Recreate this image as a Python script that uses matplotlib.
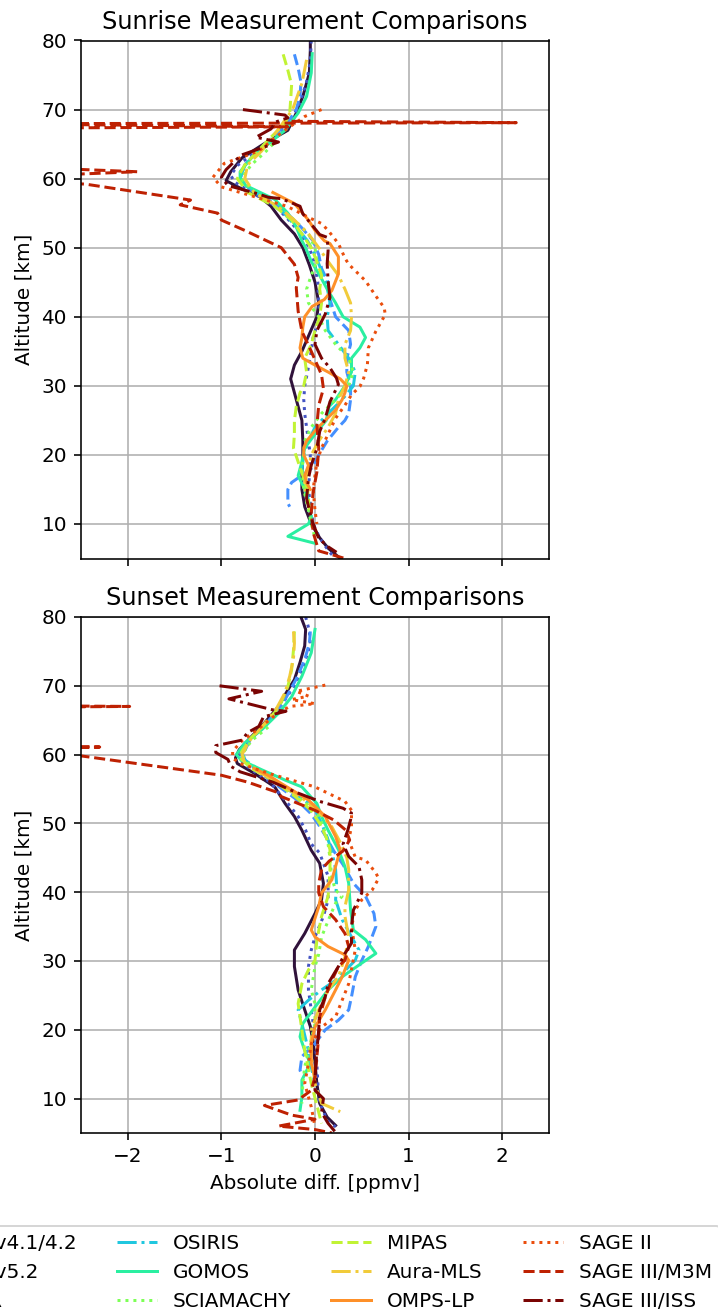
import matplotlib
matplotlib.use('Agg')
import matplotlib.pyplot as plt
import numpy as np

# instrument names (legend order)
labels = ['ACE-FTS v4.1/4.2', 'ACE-FTS v5.2', 'Odin-SMR', 'OSIRIS', 'GOMOS', 'SCIAMACHY',
          'MIPAS', 'Aura-MLS', 'OMPS-LP', 'SAGE II', 'SAGE III/M3M', 'SAGE III/ISS']

# ---- sunrise profiles: [altitude km, abs. diff ppmv] ----
sr_ace41 = np.array([[80, -0.05], [78.6, -0.05], [75.3, -0.06], [71.9, -0.13], [69.5, -0.2], [67, -0.29],
                     [65, -0.55], [63, -0.78], [61, -0.9], [59.7, -0.95], [58.5, -0.78], [57.5, -0.6],
                     [56, -0.47], [54, -0.36], [52, -0.22], [50, -0.13], [47.5, -0.06], [45, 0.0],
                     [42, 0.04], [40, 0.02], [37.5, -0.06], [35, -0.14], [33, -0.22], [31, -0.26],
                     [29, -0.22], [27, -0.18], [25, -0.14], [22, -0.13], [20, -0.13], [17.5, -0.14],
                     [15, -0.14], [12.5, -0.11], [10, -0.04], [8, 0.05], [6.5, 0.14], [5, 0.27]])
sr_ace52 = np.array([[80, -0.04], [77, -0.05], [74, -0.09], [71, -0.16], [68, -0.27], [66, -0.42],
                     [64, -0.62], [62, -0.82], [60.5, -0.9], [59.5, -0.86], [58, -0.68], [56, -0.42],
                     [54, -0.28], [52, -0.15], [50, -0.06], [47.5, 0.0], [45, 0.03], [42, 0.04],
                     [40, 0.05], [37, -0.02], [35, -0.04], [32, -0.08], [30, -0.11], [28, -0.12],
                     [26, -0.11], [24, -0.09], [22, -0.07], [20, -0.05], [17, -0.06], [15, -0.07],
                     [12, -0.04], [10, -0.02], [8, 0.05], [6, 0.15], [5, 0.22]])
sr_smr = np.array([[78, -0.22], [76, -0.18], [74, -0.15], [72, -0.16], [70, -0.2], [68, -0.3],
                   [66, -0.45], [64, -0.62], [62, -0.75], [60, -0.8], [58.5, -0.7], [57, -0.5],
                   [55, -0.3], [53, -0.15], [51, -0.02], [49, 0.04], [47, 0.07], [45, 0.14],
                   [42.5, 0.16], [40, 0.22], [38, 0.36], [36, 0.38], [34, 0.34], [32, 0.34],
                   [30, 0.38], [28, 0.38], [26, 0.36], [25, 0.32], [24, 0.25], [22, 0.13], [20, 0.04],
                   [18, -0.04], [16, -0.25], [15, -0.29], [13, -0.29], [12.5, -0.27]])
sr_osiris = np.array([[62, -0.75], [60, -0.8], [58.5, -0.7], [57, -0.5], [55, -0.33], [53, -0.2],
                      [51, -0.08], [49, 0.0], [47, 0.06], [45, 0.12], [42, 0.16], [40, 0.13],
                      [38, 0.14], [36, 0.25], [34, 0.36], [32, 0.43], [30, 0.41], [28, 0.29],
                      [26, 0.14], [24, 0.0], [22, -0.07], [20, -0.12], [18, -0.14], [16, -0.12],
                      [14, -0.08], [12, -0.05], [10, -0.03]])
sr_gomos = np.array([[78.1, -0.03], [75.3, -0.04], [71.9, -0.09], [69.5, -0.18], [67, -0.32], [65, -0.5],
                     [63, -0.68], [61, -0.8], [60, -0.8], [59, -0.74], [57, -0.43], [55, -0.29],
                     [53, -0.2], [51, -0.14], [50, -0.1], [48, -0.04], [46, 0.05], [44, 0.13],
                     [42, 0.22], [40, 0.3], [38.5, 0.48], [37, 0.54], [35.5, 0.48], [34, 0.39],
                     [32, 0.39], [30, 0.32], [28, 0.22], [27, 0.15], [25, 0.12], [23, 0.0],
                     [21, -0.11], [19, -0.14], [17, -0.18], [15, -0.11], [13, -0.07], [11, -0.04],
                     [10, -0.07], [8.2, -0.29], [7.2, 0.0]])
sr_scia = np.array([[65, -0.45], [64, -0.52], [62, -0.68], [60, -0.79], [58, -0.65], [56, -0.4],
                    [54, -0.22], [52, -0.07], [50, 0.0], [48, 0.02], [46, -0.04], [44, -0.09],
                    [42, -0.07], [40, 0.04], [38, 0.11], [36, 0.22], [34, 0.36], [32, 0.41],
                    [30, 0.36], [28, 0.22], [26, 0.07], [24, -0.04], [22, -0.11], [20, -0.12],
                    [18, -0.14], [15, -0.12], [12, -0.07], [10, -0.04], [8, 0.0]])
sr_mipas = np.array([[78, -0.34], [75.7, -0.29], [73.6, -0.25], [71.4, -0.26], [69.5, -0.27], [68, -0.32],
                     [66, -0.47], [64, -0.61], [62, -0.75], [60, -0.83], [58, -0.72], [56, -0.43],
                     [54, -0.25], [52, -0.14], [50, -0.04], [48, 0.02], [46, 0.07], [44, 0.05],
                     [42, 0.07], [40, 0.05], [38, 0.0], [36, -0.04], [34, -0.11], [32, -0.09],
                     [30, -0.12], [29, -0.16], [27, -0.2], [25, -0.22], [23, -0.22], [21, -0.23],
                     [19, -0.18], [17, -0.13], [15, -0.08], [12, -0.06]])
sr_mls = np.array([[77.2, -0.09], [73.8, -0.14], [70, -0.24], [67, -0.4], [64, -0.57], [62, -0.72],
                   [60, -0.75], [58, -0.65], [56, -0.4], [54, -0.22], [52, -0.07], [50, 0.04],
                   [48, 0.14], [46, 0.25], [44, 0.32], [42, 0.38], [40, 0.39], [38, 0.38], [36, 0.32],
                   [34, 0.32], [32, 0.36], [30, 0.32], [28, 0.25], [26, 0.22], [24, 0.14], [22, 0.04],
                   [20, -0.04], [18, -0.07], [16, -0.11], [14, -0.1]])
sr_omps = np.array([[58, -0.45], [56.4, -0.22], [54, -0.07], [52.5, 0.0], [51, 0.1], [50.6, 0.16],
                    [48.7, 0.25], [46.2, 0.25], [43.8, 0.18], [42.5, 0.1], [41.5, -0.03], [40, -0.11],
                    [38.5, -0.13], [37, -0.14], [35.5, -0.16], [34, -0.13], [33, 0.0], [32, 0.14],
                    [31, 0.27], [30, 0.34], [29, 0.32], [28, 0.29], [26.5, 0.22], [25, 0.11],
                    [23.5, 0.0], [22, -0.09], [21, -0.12], [20, -0.12], [18.5, -0.07], [17, -0.11],
                    [16, -0.09], [15, -0.05]])
sr_sage2 = np.array([[70, 0.07], [69, -0.11], [67.4, -0.28], [66, -0.42], [64, -0.6], [62.2, -0.97],
                     [60.2, -1.09], [58.8, -1.0], [58, -0.8], [57, -0.55], [56, -0.3], [54.4, -0.07],
                     [53.5, 0.07], [52.5, 0.14], [50.6, 0.25], [48.5, 0.32], [47.6, 0.36], [45.2, 0.54],
                     [43, 0.65], [41.3, 0.74], [40.3, 0.75], [37.9, 0.65], [35.5, 0.57], [33.1, 0.56],
                     [31.1, 0.52], [29.9, 0.48], [28.7, 0.39], [27.2, 0.32], [25.3, 0.22], [23, 0.14],
                     [21, 0.07], [19, 0.02], [17, 0.0], [15, -0.02], [12, 0.0], [10, 0.02]])
sr_m3m = np.array([[68.3, -0.25], [68.1, 2.15], [67.95, -3.5], [67.5, -0.29], [67.3, -3.5], [62.0, -3.5],
                   [61.6, -3.0], [61.0, -1.9], [60.4, -3.0], [59.8, -3.2], [59.2, -2.45], [56.9, -1.33],
                   [56.2, -1.44], [55.0, -1.04], [54.0, -1.0], [52.5, -0.75], [50, -0.36], [47.6, -0.22],
                   [45.7, -0.18], [44.2, -0.2], [40.8, -0.18], [37.9, -0.14], [35, -0.04], [31.6, 0.07],
                   [29.6, 0.09], [27.2, 0.04], [24.3, 0.02], [20.9, 0.04], [17.5, 0.02], [14.6, -0.02],
                   [11.7, -0.04], [8.8, -0.02], [6.1, 0.04], [5.4, 0.22], [5.0, 0.32]])
sr_iss = np.array([[70.0, -0.77], [69.2, -0.32], [68.8, -0.29], [68.2, -0.42], [67.2, -0.47], [66.0, -0.63],
                   [65.3, -0.39], [63.4, -0.79], [62.5, -0.86], [61.3, -0.95], [60.2, -1.0], [59.0, -0.93],
                   [57.8, -0.61], [57.3, -0.5], [57.1, -0.36], [56.0, -0.16], [54.9, -0.13], [51.9, 0.05],
                   [51.5, 0.13], [49.6, 0.14], [47.7, 0.13], [45.2, 0.14], [42.8, 0.16], [40.4, 0.11],
                   [38, 0.02], [36, 0.0], [34, 0.07], [32.6, 0.16], [31.1, 0.23], [30.2, 0.25],
                   [27.7, 0.16], [25.3, 0.11], [23.4, 0.05], [20.9, 0.02], [18.5, -0.04], [16.6, -0.07],
                   [13.7, -0.09], [10.8, -0.04], [7.9, 0.04], [6.7, 0.14], [5.9, 0.23]])

# ---- sunset profiles ----
ss_ace41 = np.array([[80, -0.15], [78.2, -0.1], [75.8, -0.11], [73.4, -0.16], [70.9, -0.22], [69.4, -0.29],
                     [67, -0.39], [64.6, -0.54], [62.6, -0.68], [60.7, -0.81], [59.5, -0.85], [58.7, -0.83],
                     [57.3, -0.65], [55.3, -0.43], [52.9, -0.32], [51, -0.22], [49, -0.14], [46.1, -0.04],
                     [44.2, 0.05], [41.3, 0.09], [38.9, 0.07], [36.9, 0.0], [34, -0.11], [31.6, -0.22],
                     [29.2, -0.22], [25.8, -0.18], [22.9, -0.11], [20.5, -0.05], [18.1, -0.02],
                     [15.1, 0.0], [12.2, 0.02], [9.3, 0.05], [7.3, 0.13], [6.1, 0.22]])
ss_ace52 = np.array([[80, -0.1], [78, -0.06], [76, -0.05], [73, -0.12], [70, -0.22], [67, -0.37],
                     [64.6, -0.52], [62.6, -0.66], [60.5, -0.79], [59.3, -0.8], [58, -0.7], [56, -0.48],
                     [54, -0.36], [52.9, -0.29], [51, -0.18], [49, -0.1], [47, -0.04], [45.7, 0.05],
                     [42.3, 0.14], [38.9, 0.14], [36.5, 0.09], [33.5, 0.0], [31.6, -0.04], [29.2, -0.07],
                     [25.8, -0.07], [22.9, -0.04], [19, 0.0], [15, 0.02], [9.8, 0.04], [6.8, 0.13],
                     [5.9, 0.22]])
ss_smr = np.array([[77.9, -0.05], [76.2, -0.06], [73.8, -0.11], [71, -0.2], [68, -0.32], [66, -0.42],
                   [64, -0.56], [62, -0.7], [60, -0.77], [59, -0.74], [57.5, -0.6], [55.5, -0.4],
                   [53.5, -0.2], [51.5, -0.05], [50, 0.03], [48, 0.12], [46, 0.2], [44, 0.3],
                   [41.3, 0.41], [39.4, 0.54], [36.9, 0.63], [35, 0.65], [32.1, 0.57], [30.1, 0.5],
                   [27.7, 0.43], [24.8, 0.39], [22.9, 0.36], [21.4, 0.25], [20, 0.11], [18, 0.0],
                   [16.1, -0.14], [14.1, -0.16], [13.5, -0.14]])
ss_osiris = np.array([[61, -0.78], [59.5, -0.78], [58, -0.62], [56.5, -0.45], [55, -0.3], [53.5, -0.12],
                      [52, 0.0], [50, 0.07], [48, 0.13], [46, 0.18], [43.3, 0.22], [41.3, 0.23],
                      [38.9, 0.22], [36, 0.29], [33.5, 0.39], [31.6, 0.47], [30.1, 0.43], [27.2, 0.22],
                      [25.8, 0.07], [24.3, -0.07], [22.9, -0.18], [20.9, -0.14], [17, -0.07],
                      [14.6, -0.04], [12.2, 0.0]])
ss_gomos = np.array([[78.2, 0.0], [74.8, -0.04], [71.4, -0.14], [68.4, -0.25], [66, -0.39], [63.6, -0.57],
                     [61.7, -0.75], [60, -0.84], [59.2, -0.79], [57.8, -0.57], [56.3, -0.32],
                     [55.3, -0.14], [52.9, 0.02], [51, 0.07], [49, 0.14], [46.2, 0.25], [43.7, 0.32],
                     [41.3, 0.36], [37.4, 0.38], [34.5, 0.41], [33.1, 0.54], [31.1, 0.65], [29.7, 0.5],
                     [27.7, 0.29], [25.8, 0.14], [23.3, 0.0], [20.9, -0.13], [19, -0.16], [17, -0.11],
                     [15.1, -0.05], [12.7, -0.14], [10.2, -0.14], [8.3, -0.16]])
ss_scia = np.array([[64, -0.5], [62, -0.68], [60, -0.78], [58.5, -0.7], [57, -0.52], [55, -0.3],
                    [53, -0.1], [51, 0.04], [49, 0.1], [47, 0.14], [45, 0.16], [42, 0.18], [40.3, 0.22],
                    [39.4, 0.29], [38.4, 0.22], [36.5, 0.16], [33.5, 0.07], [31, 0.04], [29.2, 0.0],
                    [25.8, -0.04], [23.8, 0.0], [20.9, 0.0], [18, -0.05], [14.6, -0.11], [12.2, -0.13],
                    [9.3, -0.14]])
ss_mipas = np.array([[77.9, -0.22], [75.2, -0.23], [72.3, -0.25], [69.9, -0.29], [67, -0.38], [64.5, -0.53],
                     [62.5, -0.68], [60.5, -0.78], [59.5, -0.8], [58, -0.68], [56, -0.42], [54, -0.22],
                     [52, -0.05], [50, 0.05], [48, 0.12], [46.2, 0.16], [43, 0.16], [39.4, 0.14],
                     [36.5, 0.07], [33, 0.02], [30.1, 0.0], [28.7, -0.07], [26.7, -0.14], [23.8, -0.18],
                     [20, -0.14], [17, -0.11], [12.2, -0.04], [6.4, 0.07]])
ss_mls = np.array([[77.9, -0.23], [76.2, -0.22], [74, -0.23], [71.4, -0.27], [69, -0.32], [66.5, -0.42],
                   [64, -0.57], [62, -0.7], [60, -0.78], [58.8, -0.75], [57.5, -0.6], [55.5, -0.35],
                   [53.5, -0.12], [51.5, 0.05], [49.5, 0.18], [47, 0.28], [45, 0.34], [43.3, 0.36],
                   [40.3, 0.36], [37.9, 0.32], [36.5, 0.32], [33.5, 0.36], [30.6, 0.32], [27.7, 0.25],
                   [25.8, 0.14], [22.9, 0.04], [20, -0.04], [16.1, -0.04], [12.2, 0.0], [9.3, 0.07],
                   [8.1, 0.27]])
ss_omps = np.array([[58, -0.65], [57, -0.5], [55.8, -0.36], [53.4, -0.07], [51, 0.11], [48.1, 0.22],
                    [46.1, 0.27], [45.2, 0.25], [41.8, 0.18], [39.9, 0.07], [37.9, 0.04], [34.5, -0.04],
                    [33.5, 0.0], [32.1, 0.14], [30.9, 0.32], [30.1, 0.36], [27.7, 0.29], [25.8, 0.22],
                    [22.9, 0.11], [20.4, 0.0], [18, -0.04], [15.1, -0.04], [13.2, 0.0]])
ss_sage2 = np.array([[70.1, 0.11], [69.2, -0.2], [68.5, -0.07], [68.0, -0.25], [67.8, -0.17], [67.4, 0.0],
                     [67.0, -0.27], [66, -0.4], [64, -0.58], [62, -0.78], [60.5, -0.88], [59.5, -0.88],
                     [58.7, -0.8], [57.3, -0.5], [55.3, 0.0], [53.2, 0.32], [51.9, 0.39], [49.5, 0.39],
                     [47.6, 0.36], [45.1, 0.43], [44.7, 0.54], [42.8, 0.65], [42, 0.68], [40.3, 0.61],
                     [38.9, 0.5], [37.4, 0.43], [35, 0.39], [31.6, 0.43], [26.7, 0.36], [24.3, 0.29],
                     [21.9, 0.22], [20.4, 0.07], [18, -0.04], [15.1, -0.07], [12.2, -0.11], [8.8, -0.04],
                     [5.9, 0.0]])
ss_m3m = np.array([[67.2, -4.0], [67.0, -1.98], [66.8, -4.0], [61.5, -4.0], [61.1, -2.3], [60.6, -4.0],
                   [60.0, -2.6], [57.0, -1.0], [56.0, -0.72], [54.5, -0.4], [53.9, -0.36], [51.9, 0.0],
                   [50.5, 0.2], [49, 0.33], [47.6, 0.37], [46, 0.3], [44.5, 0.15], [43.3, 0.07],
                   [41.3, 0.04], [39.9, 0.04], [37.9, 0.09], [36, 0.22], [34, 0.32], [32.1, 0.36],
                   [30.1, 0.32], [29.2, 0.25], [27.2, 0.18], [24.8, 0.11], [21.9, 0.05], [19, 0.04],
                   [16.1, 0.02], [13.2, 0.0], [11.2, -0.04], [9.8, -0.18], [9.0, -0.54], [7.6, -0.25],
                   [7.0, 0.0], [6.0, -0.39], [5.5, 0.0], [5.0, 0.18]])
ss_iss = np.array([[70.0, -1.02], [69.2, -0.57], [68.1, -0.92], [66.5, -0.45], [66.3, -0.31], [65.5, -0.55],
                   [64.1, -0.6], [63.2, -0.72], [62.1, -0.78], [61.3, -1.06], [60.3, -1.06], [59.3, -0.93],
                   [58.3, -0.9], [57.5, -0.8], [56, -0.45], [54.5, -0.2], [53.2, 0.05], [52.2, 0.3],
                   [51.5, 0.39], [50.5, 0.38], [49, 0.35], [47, 0.3], [45.2, 0.36], [43.7, 0.47],
                   [41.8, 0.5], [39.9, 0.5], [37.4, 0.41], [35, 0.39], [32.6, 0.39], [31.1, 0.32],
                   [29.2, 0.25], [26.7, 0.14], [24.8, 0.11], [22.9, 0.05], [20, 0.04], [17, 0.02],
                   [13.2, 0.0], [11.2, 0.0], [10, 0.09], [8, 0.07], [6.4, 0.14], [5.1, 0.22]])

sunrise = [sr_ace41, sr_ace52, sr_smr, sr_osiris, sr_gomos, sr_scia,
           sr_mipas, sr_mls, sr_omps, sr_sage2, sr_m3m, sr_iss]
sunset = [ss_ace41, ss_ace52, ss_smr, ss_osiris, ss_gomos, ss_scia,
          ss_mipas, ss_mls, ss_omps, ss_sage2, ss_m3m, ss_iss]

colors = plt.cm.turbo(np.linspace(0, 1, len(labels)))
styles = ['-', ':', '--', '-.']

fig = plt.figure(figsize=(718/144, 1316/144), dpi=144)
ax1 = fig.add_axes([81/718, 1-558.5/1316, 468/718, 518/1316])
ax2 = fig.add_axes([81/718, 1-1133/1316, 468/718, 516/1316])

for ax, profs, title in [(ax1, sunrise, 'Sunrise Measurement Comparisons'),
                         (ax2, sunset, 'Sunset Measurement Comparisons')]:
    for i, p in enumerate(profs):
        ax.plot(p[:, 1], p[:, 0], color=colors[i], ls=styles[i % 4], lw=1.5, label=labels[i])
    ax.set_xlim(-2.5, 2.5)
    ax.set_ylim(5, 80)
    ax.set_xticks([-2, -1, 0, 1, 2])
    ax.grid(True)
    ax.set_axisbelow(True)
    ax.set_title(title, fontsize=12)
    ax.set_ylabel('Altitude [km]')

ax1.tick_params(labelbottom=False)
ax2.set_xlabel('Absolute diff. [ppmv]')

# legend sits below the panels and runs past the left edge, as in the original
handles, labs = ax1.get_legend_handles_labels()
fig.legend(handles, labs, loc='upper right', bbox_to_anchor=(730/718, 1-1216/1316), ncol=4)

fig.savefig('out.png', dpi=144)
